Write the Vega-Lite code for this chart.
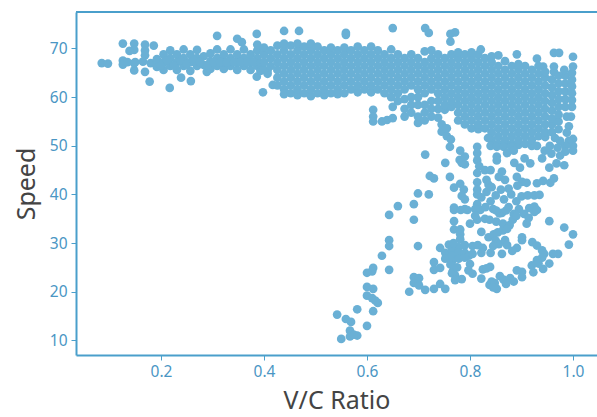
{"$schema":"https://vega.github.io/schema/vega-lite/v6.json","width":521,"height":343,"autosize":{"type":"none"},"padding":{"left":76,"top":12,"right":0,"bottom":62},"background":"white","view":{"stroke":null},"config":{"font":"Noto Sans"},
"data":{"values":[
{"r":0.085,"s":67},{"r":0.097,"s":66.9},{"r":0.126,"s":71},{"r":0.126,"s":67.5},{"r":0.126,"s":66.7},{"r":0.148,"s":71},{"r":0.148,"s":69.7},{"r":0.139,"s":69.5},{"r":0.148,"s":65.5},{"r":0.148,"s":67},{"r":0.169,"s":70.8},{"r":0.169,"s":69.6},{"r":0.169,"s":68.6},{"r":0.186,"s":70.6},{"r":0.169,"s":65.2},{"r":0.178,"s":63.2},{"r":0.217,"s":61.9},{"r":0.239,"s":64},{"r":0.258,"s":63.3},{"r":0.309,"s":72.6},{"r":0.289,"s":65.2},{"r":0.348,"s":72},{"r":0.357,"s":71.3},{"r":0.386,"s":73},{"r":0.439,"s":73.6},{"r":0.468,"s":73.6},{"r":0.386,"s":64.2},{"r":0.398,"s":61},{"r":0.417,"s":62.5},
{"r":0.135,"s":67.2},{"r":0.15,"s":67.2},{"r":0.165,"s":67.3},{"r":0.18,"s":67},
{"r":0.192,"s":66.2},{"r":0.192,"s":67.8},{"r":0.205,"s":65.6},{"r":0.205,"s":67.2},{"r":0.205,"s":68.8},{"r":0.218,"s":66.4},{"r":0.218,"s":68},{"r":0.218,"s":69.6},{"r":0.231,"s":65.6},{"r":0.231,"s":67.2},{"r":0.231,"s":68.8},{"r":0.244,"s":66.4},{"r":0.244,"s":68},{"r":0.244,"s":69.8},{"r":0.257,"s":65.4},{"r":0.257,"s":67.2},{"r":0.257,"s":68.8},{"r":0.27,"s":66.4},{"r":0.27,"s":68},{"r":0.27,"s":69.7},{"r":0.283,"s":66.6},{"r":0.283,"s":68.4},{"r":0.296,"s":65.8},{"r":0.296,"s":67.4},{"r":0.296,"s":69},{"r":0.309,"s":66.4},{"r":0.309,"s":68},{"r":0.309,"s":69.8},{"r":0.322,"s":65.8},{"r":0.322,"s":67.2},{"r":0.322,"s":68.8},{"r":0.335,"s":66.4},{"r":0.335,"s":68},{"r":0.335,"s":69.8},{"r":0.348,"s":65.6},{"r":0.348,"s":67.2},{"r":0.348,"s":68.8},{"r":0.361,"s":66.4},{"r":0.361,"s":68},{"r":0.361,"s":69.8},{"r":0.374,"s":65.6},{"r":0.374,"s":67.2},{"r":0.374,"s":68.8},{"r":0.387,"s":66.4},{"r":0.387,"s":68},{"r":0.387,"s":69.6},{"r":0.387,"s":70.8},
{"r":0.2,"s":66.5},{"r":0.212,"s":67.5},{"r":0.225,"s":66.5},{"r":0.238,"s":67.5},{"r":0.25,"s":66.8},{"r":0.264,"s":67.5},{"r":0.276,"s":67.2},{"r":0.29,"s":66.6},{"r":0.302,"s":67.2},{"r":0.315,"s":67.2},{"r":0.328,"s":67.2},{"r":0.342,"s":67.2},{"r":0.355,"s":67.2},{"r":0.368,"s":67.2},{"r":0.38,"s":67.2},{"r":0.393,"s":67},{"r":0.393,"s":65.4},{"r":0.407,"s":64.8},{"r":0.407,"s":65.4},
{"r":0.4,"s":65.6},{"r":0.4,"s":67.2},{"r":0.4,"s":68.8},{"r":0.4,"s":70.2},{"r":0.413,"s":66.4},{"r":0.413,"s":68},{"r":0.413,"s":69.6},{"r":0.426,"s":62.4},{"r":0.426,"s":64},{"r":0.426,"s":65.6},{"r":0.426,"s":67.2},{"r":0.426,"s":68.8},{"r":0.426,"s":70.6},
{"r":0.439,"s":60.6},{"r":0.439,"s":61.6},{"r":0.439,"s":63.2},{"r":0.439,"s":64.8},{"r":0.439,"s":66.4},{"r":0.439,"s":68},{"r":0.439,"s":69.6},{"r":0.439,"s":71},
{"r":0.452,"s":60.8},{"r":0.452,"s":62.4},{"r":0.452,"s":64},{"r":0.452,"s":65.6},{"r":0.452,"s":67.2},{"r":0.452,"s":68.8},{"r":0.452,"s":70.6},
{"r":0.465,"s":60.4},{"r":0.465,"s":61.6},{"r":0.465,"s":63.2},{"r":0.465,"s":64.8},{"r":0.465,"s":66.4},{"r":0.465,"s":68},{"r":0.465,"s":69.6},{"r":0.465,"s":71},
{"r":0.478,"s":60.8},{"r":0.478,"s":62.4},{"r":0.478,"s":64},{"r":0.478,"s":65.6},{"r":0.478,"s":67.2},{"r":0.478,"s":68.8},{"r":0.478,"s":70.4},
{"r":0.491,"s":60.2},{"r":0.491,"s":61.6},{"r":0.491,"s":63.2},{"r":0.491,"s":64.8},{"r":0.491,"s":66.4},{"r":0.491,"s":68},{"r":0.491,"s":69.6},{"r":0.491,"s":71},
{"r":0.504,"s":60.8},{"r":0.504,"s":62.4},{"r":0.504,"s":64},{"r":0.504,"s":65.6},{"r":0.504,"s":67.2},{"r":0.504,"s":68.8},{"r":0.504,"s":70.4},
{"r":0.517,"s":60.4},{"r":0.517,"s":61.6},{"r":0.517,"s":63.2},{"r":0.517,"s":64.8},{"r":0.517,"s":66.4},{"r":0.517,"s":68},{"r":0.517,"s":69.6},
{"r":0.53,"s":60.8},{"r":0.53,"s":62.4},{"r":0.53,"s":64},{"r":0.53,"s":65.6},{"r":0.53,"s":67.2},{"r":0.53,"s":68.8},{"r":0.53,"s":70.2},
{"r":0.543,"s":60.6},{"r":0.543,"s":61.6},{"r":0.543,"s":63.2},{"r":0.543,"s":64.8},{"r":0.543,"s":66.4},{"r":0.543,"s":68},{"r":0.543,"s":69.6},
{"r":0.556,"s":60.8},{"r":0.556,"s":62.4},{"r":0.556,"s":64},{"r":0.556,"s":65.6},{"r":0.556,"s":67.2},{"r":0.556,"s":68.8},{"r":0.556,"s":70.2},{"r":0.559,"s":73.2},{"r":0.559,"s":72.8},
{"r":0.569,"s":61.6},{"r":0.569,"s":63.2},{"r":0.569,"s":64.8},{"r":0.569,"s":66.4},{"r":0.569,"s":68},{"r":0.569,"s":69.6},
{"r":0.582,"s":61},{"r":0.582,"s":62.4},{"r":0.582,"s":64},{"r":0.582,"s":65.6},{"r":0.582,"s":67.2},{"r":0.582,"s":68.8},{"r":0.582,"s":70.4},
{"r":0.595,"s":61.6},{"r":0.595,"s":63.2},{"r":0.595,"s":64.8},{"r":0.595,"s":66.4},{"r":0.595,"s":68},{"r":0.595,"s":69.6},
{"r":0.608,"s":61},{"r":0.608,"s":62.4},{"r":0.608,"s":64},{"r":0.608,"s":65.6},{"r":0.608,"s":67.2},{"r":0.608,"s":68.8},{"r":0.608,"s":70.4},
{"r":0.621,"s":61.6},{"r":0.621,"s":63.2},{"r":0.621,"s":64.8},{"r":0.621,"s":66.4},{"r":0.621,"s":68},{"r":0.621,"s":69.6},
{"r":0.634,"s":60.8},{"r":0.634,"s":62.4},{"r":0.634,"s":64},{"r":0.634,"s":65.6},{"r":0.634,"s":67.2},{"r":0.634,"s":68.8},
{"r":0.647,"s":60},{"r":0.647,"s":61.6},{"r":0.647,"s":63.2},{"r":0.647,"s":64.8},{"r":0.647,"s":66.4},{"r":0.647,"s":68},{"r":0.647,"s":69.8},{"r":0.65,"s":74.2},{"r":0.612,"s":57.4},{"r":0.612,"s":56},{"r":0.612,"s":55},{"r":0.629,"s":55},{"r":0.639,"s":55.3},{"r":0.65,"s":55.7},{"r":0.65,"s":58},
{"r":0.66,"s":59.2},{"r":0.66,"s":60.8},{"r":0.66,"s":62.4},{"r":0.66,"s":64},{"r":0.66,"s":65.6},{"r":0.66,"s":67.2},{"r":0.66,"s":68.8},
{"r":0.673,"s":56},{"r":0.673,"s":57.6},{"r":0.673,"s":59.6},{"r":0.673,"s":61.6},{"r":0.673,"s":63.2},{"r":0.673,"s":64.8},{"r":0.673,"s":66.4},{"r":0.673,"s":68},
{"r":0.686,"s":56.8},{"r":0.686,"s":58.4},{"r":0.686,"s":60},{"r":0.686,"s":62.4},{"r":0.686,"s":64},{"r":0.686,"s":65.6},{"r":0.686,"s":67.2},{"r":0.686,"s":68.8},
{"r":0.699,"s":54.7},{"r":0.699,"s":56},{"r":0.699,"s":58.4},{"r":0.699,"s":60},{"r":0.699,"s":61.6},{"r":0.699,"s":63.2},{"r":0.699,"s":64.8},{"r":0.699,"s":66.4},{"r":0.699,"s":68},
{"r":0.712,"s":55.2},{"r":0.712,"s":56.8},{"r":0.712,"s":58.4},{"r":0.712,"s":60.8},{"r":0.712,"s":62.4},{"r":0.712,"s":64},{"r":0.712,"s":65.6},{"r":0.712,"s":67.2},{"r":0.712,"s":69.4},{"r":0.713,"s":74.2},{"r":0.72,"s":73.2},
{"r":0.725,"s":56},{"r":0.725,"s":57.6},{"r":0.725,"s":59.2},{"r":0.725,"s":61.6},{"r":0.725,"s":63.2},{"r":0.725,"s":64.8},{"r":0.725,"s":66.4},{"r":0.725,"s":68},{"r":0.725,"s":69.6},
{"r":0.738,"s":55.8},{"r":0.738,"s":57.6},{"r":0.738,"s":59.2},{"r":0.738,"s":60.8},{"r":0.738,"s":62.4},{"r":0.738,"s":64},{"r":0.738,"s":65.6},{"r":0.738,"s":67.2},{"r":0.738,"s":68.8},
{"r":0.745,"s":52.9},{"r":0.755,"s":52},{"r":0.763,"s":51.3},{"r":0.761,"s":49.8},{"r":0.781,"s":49},{"r":0.713,"s":48.2},{"r":0.752,"s":46.5},{"r":0.745,"s":54.4},{"r":0.755,"s":53.6},
{"r":0.751,"s":57.4},{"r":0.751,"s":58.4},{"r":0.751,"s":60},{"r":0.751,"s":61.6},{"r":0.751,"s":63.2},{"r":0.751,"s":64.8},{"r":0.751,"s":66.4},{"r":0.751,"s":68},
{"r":0.764,"s":58},{"r":0.764,"s":59.2},{"r":0.764,"s":60.8},{"r":0.764,"s":62.4},{"r":0.764,"s":64},{"r":0.764,"s":65.6},{"r":0.764,"s":67.2},{"r":0.764,"s":68.8},{"r":0.771,"s":73.3},{"r":0.762,"s":73},{"r":0.762,"s":71.4},
{"r":0.777,"s":55.2},{"r":0.777,"s":56.8},{"r":0.777,"s":58.4},{"r":0.777,"s":60},{"r":0.777,"s":61.6},{"r":0.777,"s":63.2},{"r":0.777,"s":64.8},{"r":0.777,"s":66.4},{"r":0.777,"s":68},{"r":0.777,"s":69.2},
{"r":0.79,"s":54.4},{"r":0.79,"s":56},{"r":0.79,"s":57.6},{"r":0.79,"s":59.2},{"r":0.79,"s":60.8},{"r":0.79,"s":62.4},{"r":0.79,"s":64},{"r":0.79,"s":65.6},{"r":0.79,"s":67.2},{"r":0.79,"s":68.8},
{"r":0.803,"s":53.6},{"r":0.803,"s":55.2},{"r":0.803,"s":56.8},{"r":0.803,"s":58.4},{"r":0.803,"s":60},{"r":0.803,"s":61.6},{"r":0.803,"s":63.2},{"r":0.803,"s":64.8},{"r":0.803,"s":66.4},{"r":0.803,"s":68},{"r":0.803,"s":69.2},
{"r":0.816,"s":53.4},{"r":0.816,"s":54.4},{"r":0.816,"s":56},{"r":0.816,"s":57.6},{"r":0.816,"s":59.2},{"r":0.816,"s":60.8},{"r":0.816,"s":62.4},{"r":0.816,"s":64},{"r":0.816,"s":65.6},{"r":0.816,"s":67.2},{"r":0.816,"s":68.8},{"r":0.821,"s":69.8},
{"r":0.829,"s":53.6},{"r":0.829,"s":55.2},{"r":0.829,"s":56.8},{"r":0.829,"s":58.4},{"r":0.829,"s":60},{"r":0.829,"s":61.6},{"r":0.829,"s":63.2},{"r":0.829,"s":64.8},{"r":0.829,"s":66.4},{"r":0.829,"s":68},
{"r":0.842,"s":51.2},{"r":0.842,"s":52.8},{"r":0.842,"s":54.4},{"r":0.842,"s":56},{"r":0.842,"s":57.6},{"r":0.842,"s":59.2},{"r":0.842,"s":60.8},{"r":0.842,"s":62.4},{"r":0.842,"s":64},{"r":0.842,"s":65.6},{"r":0.842,"s":67.2},{"r":0.842,"s":68.4},
{"r":0.855,"s":50.4},{"r":0.855,"s":52},{"r":0.855,"s":53.6},{"r":0.855,"s":55.2},{"r":0.855,"s":56.8},{"r":0.855,"s":58.4},{"r":0.855,"s":60},{"r":0.855,"s":61.6},{"r":0.855,"s":63.2},{"r":0.855,"s":64.8},{"r":0.855,"s":66.4},{"r":0.855,"s":68.6},
{"r":0.868,"s":50.2},{"r":0.868,"s":51.2},{"r":0.868,"s":52.8},{"r":0.868,"s":54.4},{"r":0.868,"s":56},{"r":0.868,"s":57.6},{"r":0.868,"s":59.2},{"r":0.868,"s":60.8},{"r":0.868,"s":62.4},{"r":0.868,"s":64},{"r":0.868,"s":65.6},{"r":0.868,"s":67.4},
{"r":0.881,"s":50.4},{"r":0.881,"s":52},{"r":0.881,"s":53.6},{"r":0.881,"s":55.2},{"r":0.881,"s":56.8},{"r":0.881,"s":58.4},{"r":0.881,"s":60},{"r":0.881,"s":61.6},{"r":0.881,"s":63.2},{"r":0.881,"s":64.8},{"r":0.881,"s":66.4},{"r":0.891,"s":68.8},
{"r":0.894,"s":50.2},{"r":0.894,"s":51.2},{"r":0.894,"s":52.8},{"r":0.894,"s":54.4},{"r":0.894,"s":56},{"r":0.894,"s":57.6},{"r":0.894,"s":59.2},{"r":0.894,"s":60.8},{"r":0.894,"s":62.4},{"r":0.894,"s":64},{"r":0.894,"s":65.6},{"r":0.894,"s":66.8},
{"r":0.907,"s":50.4},{"r":0.907,"s":52},{"r":0.907,"s":53.6},{"r":0.907,"s":55.2},{"r":0.907,"s":56.8},{"r":0.907,"s":58.4},{"r":0.907,"s":60},{"r":0.907,"s":61.6},{"r":0.907,"s":63.2},{"r":0.907,"s":64.8},{"r":0.907,"s":66.4},
{"r":0.92,"s":50},{"r":0.92,"s":51.2},{"r":0.92,"s":52.8},{"r":0.92,"s":54.4},{"r":0.92,"s":56},{"r":0.92,"s":57.6},{"r":0.92,"s":59.2},{"r":0.92,"s":60.8},{"r":0.92,"s":62.4},{"r":0.92,"s":64},{"r":0.92,"s":65.6},{"r":0.93,"s":67.9},{"r":0.942,"s":66.3},
{"r":0.933,"s":52},{"r":0.933,"s":53.6},{"r":0.933,"s":55.2},{"r":0.933,"s":56.8},{"r":0.933,"s":58.4},{"r":0.933,"s":60},{"r":0.933,"s":61.6},{"r":0.933,"s":63.2},{"r":0.933,"s":64.8},{"r":0.933,"s":66.4},
{"r":0.946,"s":51.8},{"r":0.946,"s":52.8},{"r":0.946,"s":54.4},{"r":0.946,"s":56},{"r":0.946,"s":57.6},{"r":0.946,"s":59.2},{"r":0.946,"s":60.8},{"r":0.946,"s":62.4},{"r":0.946,"s":64},{"r":0.946,"s":65.2},
{"r":0.959,"s":52.8},{"r":0.959,"s":54.4},{"r":0.959,"s":55.6},{"r":0.959,"s":57.2},{"r":0.959,"s":58.8},{"r":0.959,"s":60.4},{"r":0.959,"s":62},{"r":0.959,"s":63.6},{"r":0.963,"s":65.2},{"r":0.963,"s":66.3},{"r":0.963,"s":69.1},{"r":0.973,"s":69.1},
{"r":0.972,"s":53.4},{"r":0.972,"s":55},{"r":0.972,"s":56.4},{"r":0.972,"s":58},{"r":0.972,"s":59.6},{"r":0.972,"s":61.2},{"r":0.972,"s":62.8},{"r":0.972,"s":64.4},
{"r":0.985,"s":58},{"r":0.985,"s":59.6},{"r":0.985,"s":61.2},{"r":0.985,"s":62.8},{"r":0.985,"s":64.4},{"r":0.983,"s":65.6},
{"r":0.998,"s":58},{"r":0.998,"s":59.4},{"r":0.998,"s":60.8},{"r":0.998,"s":62.2},{"r":0.998,"s":63.6},{"r":0.998,"s":65},{"r":1,"s":66.3},{"r":1,"s":68.3},{"r":0.996,"s":56},{"r":0.988,"s":56},{"r":0.992,"s":54},{"r":0.988,"s":52.7},
{"r":1,"s":51.4},{"r":1,"s":50},{"r":1,"s":49},{"r":0.992,"s":51},{"r":0.985,"s":50},{"r":0.975,"s":51},{"r":0.965,"s":51.6},{"r":0.985,"s":48.8},{"r":0.97,"s":49.6},{"r":0.955,"s":50},{"r":0.945,"s":49},{"r":0.93,"s":50},{"r":0.958,"s":48.4},{"r":0.975,"s":48},
{"r":0.835,"s":51.6},{"r":0.84,"s":50},{"r":0.852,"s":49.8},{"r":0.865,"s":49.8},{"r":0.88,"s":49.8},
{"r":0.78,"s":47.1},{"r":0.784,"s":46.5},{"r":0.79,"s":47.8},{"r":0.79,"s":46.2},
{"r":0.814,"s":49.8},{"r":0.814,"s":48.5},{"r":0.814,"s":47},{"r":0.818,"s":45.8},{"r":0.814,"s":44.4},{"r":0.814,"s":42.5},{"r":0.814,"s":41},{"r":0.814,"s":40},{"r":0.814,"s":38},{"r":0.822,"s":39.4},{"r":0.82,"s":36.8},
{"r":0.829,"s":45},{"r":0.84,"s":45},{"r":0.832,"s":43},{"r":0.836,"s":42},{"r":0.832,"s":40.5},{"r":0.842,"s":41.5},{"r":0.84,"s":38.6},{"r":0.83,"s":37.4},
{"r":0.852,"s":47.8},{"r":0.852,"s":47},{"r":0.872,"s":48.5},{"r":0.885,"s":49},{"r":0.886,"s":46.5},{"r":0.897,"s":45.5},{"r":0.862,"s":44.7},{"r":0.856,"s":43.6},{"r":0.868,"s":43},{"r":0.891,"s":43.6},{"r":0.901,"s":42.6},{"r":0.91,"s":42.4},{"r":0.93,"s":42.3},{"r":0.942,"s":42.8},{"r":0.956,"s":42.4},{"r":0.963,"s":43.3},{"r":0.954,"s":45.5},{"r":0.968,"s":46.4},{"r":0.983,"s":46},{"r":0.917,"s":46.4},{"r":0.94,"s":47.4},{"r":0.892,"s":41.8},{"r":0.906,"s":47.4},
{"r":0.86,"s":41},{"r":0.875,"s":41.2},{"r":0.85,"s":39.8},{"r":0.866,"s":39},{"r":0.88,"s":40},{"r":0.89,"s":38.6},{"r":0.9,"s":39.6},{"r":0.912,"s":39.8},{"r":0.925,"s":39.8},{"r":0.935,"s":39.9},{"r":0.875,"s":37.4},{"r":0.895,"s":37},{"r":0.915,"s":37.2},{"r":0.925,"s":37.5},{"r":0.905,"s":36},{"r":0.885,"s":36},{"r":0.862,"s":36.2},{"r":0.845,"s":37},
{"r":0.722,"s":43.8},{"r":0.73,"s":43.3},{"r":0.761,"s":43.6},{"r":0.781,"s":42.2},{"r":0.769,"s":41.4},{"r":0.788,"s":41},{"r":0.784,"s":39.7},{"r":0.79,"s":39},{"r":0.699,"s":40.2},{"r":0.72,"s":40},{"r":0.66,"s":37.6},{"r":0.691,"s":38},{"r":0.769,"s":37.3},{"r":0.79,"s":37},
{"r":0.643,"s":35.8},{"r":0.691,"s":34.8},{"r":0.769,"s":36.8},{"r":0.782,"s":36.8},{"r":0.795,"s":36.8},{"r":0.81,"s":37},{"r":0.769,"s":34.5},{"r":0.8,"s":34},{"r":0.814,"s":34.8},{"r":0.81,"s":35.6},
{"r":0.829,"s":35},{"r":0.838,"s":34.8},{"r":0.851,"s":34.4},{"r":0.864,"s":34},{"r":0.877,"s":33.7},{"r":0.883,"s":34.8},{"r":0.857,"s":36.1},{"r":0.87,"s":36.7},{"r":0.851,"s":36.7},{"r":0.89,"s":35.6},{"r":0.91,"s":34},{"r":0.914,"s":35.2},{"r":0.925,"s":36.4},{"r":0.93,"s":36.8},
{"r":0.954,"s":34.5},{"r":0.983,"s":33.2},{"r":1,"s":31.8},{"r":0.992,"s":29.7},{"r":0.822,"s":32.3},{"r":0.769,"s":32.8},{"r":0.781,"s":32.8},{"r":0.781,"s":31.8},{"r":0.781,"s":30.8},
{"r":0.836,"s":31.2},{"r":0.846,"s":31.8},{"r":0.854,"s":32.2},{"r":0.864,"s":32.6},{"r":0.872,"s":32.9},{"r":0.85,"s":30.5},{"r":0.856,"s":29.8},{"r":0.845,"s":29.4},{"r":0.868,"s":30.6},{"r":0.872,"s":29.6},{"r":0.901,"s":31.2},{"r":0.901,"s":30.6},{"r":0.891,"s":29},{"r":0.882,"s":28.4},{"r":0.862,"s":27.8},{"r":0.921,"s":30.2},{"r":0.93,"s":29.5},{"r":0.94,"s":28.5},{"r":0.944,"s":27.8},
{"r":0.742,"s":29},{"r":0.759,"s":29.7},{"r":0.752,"s":28},{"r":0.752,"s":26.8},{"r":0.765,"s":28.6},{"r":0.765,"s":27.4},{"r":0.765,"s":26.2},{"r":0.778,"s":29.2},{"r":0.778,"s":28},{"r":0.778,"s":26.8},{"r":0.79,"s":29.6},{"r":0.79,"s":28},{"r":0.79,"s":27},{"r":0.768,"s":30},{"r":0.798,"s":27.4},{"r":0.805,"s":29.4},{"r":0.815,"s":29.6},{"r":0.825,"s":29},{"r":0.822,"s":28},{"r":0.84,"s":28},{"r":0.805,"s":27.8},
{"r":0.971,"s":27.8},{"r":0.961,"s":27.8},{"r":0.954,"s":25.8},{"r":0.94,"s":27},{"r":0.93,"s":26.5},{"r":0.92,"s":25.4},{"r":0.942,"s":24.7},{"r":0.923,"s":24},{"r":0.933,"s":25.8},
{"r":0.73,"s":26.1},{"r":0.73,"s":24.5},{"r":0.742,"s":24.9},{"r":0.767,"s":24.3},{"r":0.771,"s":23.4},{"r":0.765,"s":23.8},{"r":0.784,"s":22.6},{"r":0.771,"s":22.4},{"r":0.8,"s":25.7},{"r":0.797,"s":24.4},{"r":0.805,"s":23.7},{"r":0.762,"s":25.6},{"r":0.775,"s":25},
{"r":0.825,"s":24.6},{"r":0.832,"s":24.8},{"r":0.839,"s":25.1},{"r":0.822,"s":22.7},{"r":0.838,"s":21.4},{"r":0.852,"s":20.6},{"r":0.842,"s":22.1},{"r":0.848,"s":21.8},{"r":0.858,"s":23.2},{"r":0.865,"s":22.5},{"r":0.878,"s":22.8},{"r":0.885,"s":22.1},{"r":0.891,"s":24.4},{"r":0.901,"s":24.1},{"r":0.901,"s":23},{"r":0.87,"s":21.6},{"r":0.845,"s":20.9},
{"r":0.742,"s":21.6},{"r":0.752,"s":20.6},{"r":0.73,"s":20.6},{"r":0.713,"s":20.4},{"r":0.682,"s":20},{"r":0.691,"s":23},{"r":0.701,"s":22.8},{"r":0.691,"s":21.8},{"r":0.701,"s":21.3},
{"r":0.643,"s":30.6},{"r":0.643,"s":29.4},{"r":0.629,"s":27.4},{"r":0.643,"s":24.5},{"r":0.612,"s":24.9},{"r":0.61,"s":24.2},{"r":0.6,"s":23.9},{"r":0.6,"s":21},{"r":0.612,"s":20.6},{"r":0.6,"s":19.2},{"r":0.61,"s":18.7},{"r":0.621,"s":17.7},{"r":0.616,"s":18.2},{"r":0.612,"s":16},{"r":0.581,"s":16.4},{"r":0.6,"s":13},{"r":0.542,"s":15.3},{"r":0.559,"s":14.4},{"r":0.569,"s":13.8},{"r":0.567,"s":12},{"r":0.567,"s":10.8},{"r":0.581,"s":11},{"r":0.55,"s":10.3},{"r":0.574,"s":11.2},{"r":0.699,"s":29.4}
]},
"layer":[
{"mark":{"type":"point","filled":true,"shape":"circle","size":76,"opacity":1,"color":"#6AB0D5","clip":false},
"encoding":{
"x":{"field":"r","type":"quantitative","title":"V/C Ratio","scale":{"domain":[0.035,1.0466],"nice":false,"zero":false},"axis":{"values":[0.2,0.4,0.6,0.8,1.0],"format":".1f","grid":false,"domainColor":"#4A9FCB","domainWidth":2,"tickColor":"#4A9FCB","tickSize":5,"labelColor":"#4A96C4","labelFontSize":15.5,"labelPadding":4,"titleColor":"#444444","titleFontSize":25,"titleFontWeight":"normal","titlePadding":9}},
"y":{"field":"s","type":"quantitative","title":"Speed","scale":{"domain":[7,77.5],"nice":false,"zero":false},"axis":{"values":[10,20,30,40,50,60,70],"grid":false,"domainColor":"#4A9FCB","domainWidth":2,"tickColor":"#4A9FCB","tickSize":5,"labelColor":"#4A96C4","labelFontSize":15.5,"labelPadding":4,"titleColor":"#444444","titleFontSize":25,"titleFontWeight":"normal","titlePadding":10}}
}},
{"mark":{"type":"rule","color":"#4A9FCB","strokeWidth":2},"encoding":{"y":{"datum":77.5}}}
]}
